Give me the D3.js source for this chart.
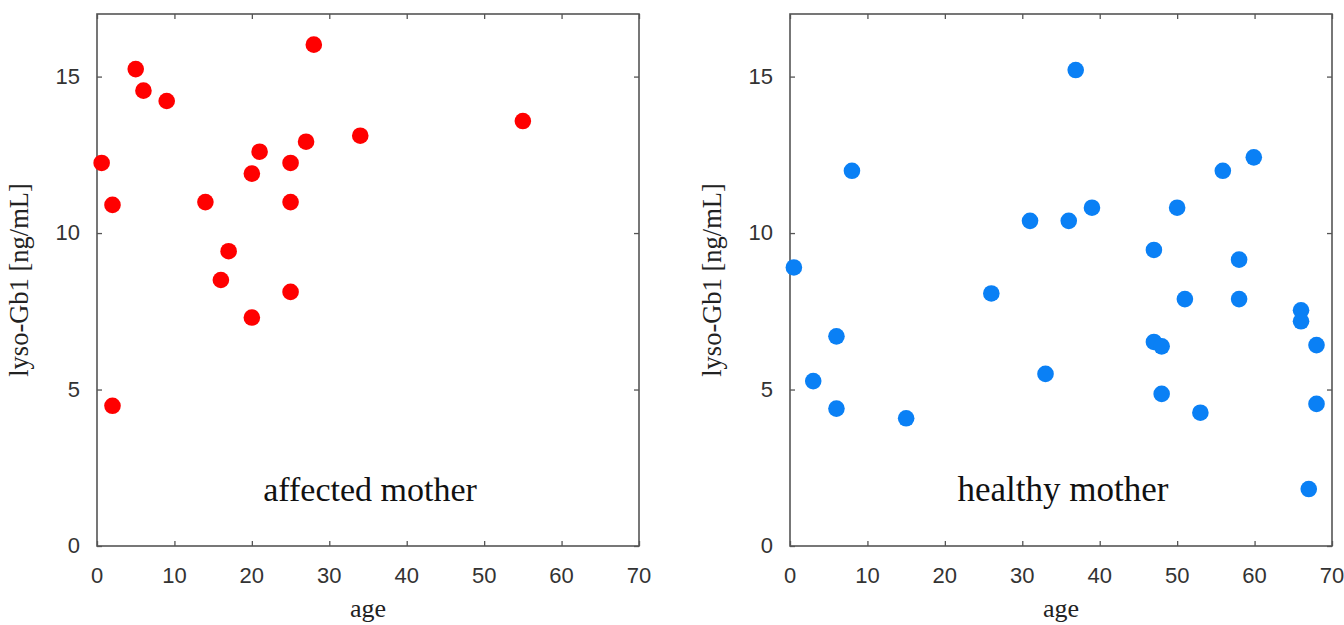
<!DOCTYPE html>
<html>
<head>
<meta charset="utf-8">
<script src="https://cdn.jsdelivr.net/npm/d3@7"></script>
<style>
  html, body { margin: 0; padding: 0; background: #fff; }
  svg { display: block; }
</style>
</head>
<body>
<svg id="chart" width="1344" height="625"></svg>
<script>
// ---- data ----
const affectedAge = [0.6, 2, 2, 5, 6, 9, 14, 17, 16, 20, 21, 20, 25, 25, 25, 27, 28, 34, 55];
const affectedLyso = [12.24, 10.9, 4.48, 15.24, 14.55, 14.22, 10.99, 9.42, 8.5, 11.9, 12.6, 7.3, 12.24, 10.99, 8.12, 12.92, 16.02, 13.11, 13.58];

const healthyAge = [36.9, 59.9, 55.9, 39, 36, 50, 47, 58, 8, 31, 0.5, 26, 51, 58, 66, 66, 6, 47, 48, 68, 33, 3, 6, 48, 68, 15, 53, 67];
const healthyLyso = [15.21, 12.42, 11.99, 10.81, 10.39, 10.81, 9.46, 9.15, 11.99, 10.39, 8.9, 8.07, 7.89, 7.89, 7.53, 7.18, 6.7, 6.52, 6.38, 6.42, 5.5, 5.27, 4.39, 4.86, 4.54, 4.08, 4.26, 1.82];

const xTicks = [0, 10, 20, 30, 40, 50, 60, 70];
const yTicks = [0, 5, 10, 15];
const xDomain = [0, 70];
const yDomain = [0, 17];
const xTitle = "age";
const yTitle = "lyso-Gb1 [ng/mL]";
const panelLabels = ["affected mother", "healthy mother"];
const colors = ["#ff0000", "#0a80f5"];

// ---- drawing ----
const svg = d3.select("#chart");
const plotTop = 14, plotBottom = 546;
const panels = [
  { x0: 97, x1: 639, ages: affectedAge, vals: affectedLyso, label: panelLabels[0], color: colors[0], labelSize: 34 },
  { x0: 790, x1: 1332, ages: healthyAge, vals: healthyLyso, label: panelLabels[1], color: colors[1], labelSize: 35 }
];
const serif = "'Liberation Serif', 'Times New Roman', serif";
const sans = "'Liberation Sans', Arial, sans-serif";
const frameColor = "#555";

panels.forEach(p => {
  const x = d3.scaleLinear().domain(xDomain).range([p.x0, p.x1]);
  const y = d3.scaleLinear().domain(yDomain).range([plotBottom, plotTop]);
  const g = svg.append("g");

  // ticks on all four sides (inward)
  const tl = 5;
  const axB = d3.axisBottom(x).tickValues(xTicks).tickSize(-tl).tickFormat("");
  const axT = d3.axisTop(x).tickValues(xTicks).tickSize(-tl).tickFormat("");
  const axL = d3.axisLeft(y).tickValues(yTicks).tickSize(-tl).tickFormat("");
  const axR = d3.axisRight(y).tickValues(yTicks).tickSize(-tl).tickFormat("");
  const styleAx = sel => {
    sel.select(".domain").remove();
    sel.selectAll(".tick line").attr("stroke", frameColor).attr("stroke-width", 1.3);
  };
  g.append("g").attr("transform", `translate(0,${plotBottom})`).call(axB).call(styleAx);
  g.append("g").attr("transform", `translate(0,${plotTop})`).call(axT).call(styleAx);
  g.append("g").attr("transform", `translate(${p.x0},0)`).call(axL).call(styleAx);
  g.append("g").attr("transform", `translate(${p.x1},0)`).call(axR).call(styleAx);

  // frame
  g.append("rect")
    .attr("x", p.x0).attr("y", plotTop)
    .attr("width", p.x1 - p.x0).attr("height", plotBottom - plotTop)
    .attr("fill", "none").attr("stroke", frameColor).attr("stroke-width", 1.6);

  // tick labels
  g.selectAll(".xl").data(xTicks).enter().append("text")
    .attr("x", d => x(d)).attr("y", plotBottom + 37)
    .attr("text-anchor", "middle")
    .attr("font-family", sans).attr("font-size", 22).attr("fill", "#333")
    .text(d => d);
  g.selectAll(".yl").data(yTicks).enter().append("text")
    .attr("x", p.x0 - 17).attr("y", d => y(d) + 7)
    .attr("text-anchor", "end")
    .attr("font-family", sans).attr("font-size", 22).attr("fill", "#333")
    .text(d => d);

  // axis titles
  g.append("text")
    .attr("x", (p.x0 + p.x1) / 2).attr("y", 617)
    .attr("text-anchor", "middle")
    .attr("font-family", serif).attr("font-size", 26).attr("fill", "#222")
    .text(xTitle);
  g.append("text")
    .attr("transform", `translate(${p.x0 - 69},${(plotTop + plotBottom) / 2}) rotate(-90)`)
    .attr("text-anchor", "middle")
    .attr("font-family", serif).attr("font-size", 26.5).attr("fill", "#222")
    .text(yTitle);

  // panel label
  g.append("text")
    .attr("x", (p.x0 + p.x1) / 2 + 2).attr("y", 501)
    .attr("text-anchor", "middle")
    .attr("font-family", serif).attr("font-size", p.labelSize).attr("fill", "#111")
    .text(p.label);

  // points
  g.selectAll("circle").data(p.ages.map((a, i) => [a, p.vals[i]])).enter().append("circle")
    .attr("cx", d => x(d[0])).attr("cy", d => y(d[1]))
    .attr("r", 8.3)
    .attr("fill", p.color);
});
</script>
</body>
</html>
